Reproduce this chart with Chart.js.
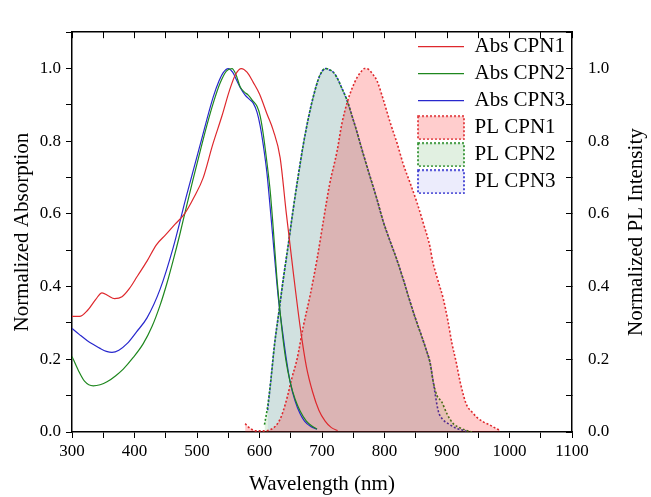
<!DOCTYPE html>
<html>
<head>
<meta charset="utf-8">
<script src="https://cdn.jsdelivr.net/npm/chart.js@4/dist/chart.umd.min.js"></script>
<style>
html,body{margin:0;padding:0;background:#fff;}
#wrap{width:651px;height:497px;position:relative;}
</style>
</head>
<body>
<div id="wrap"><canvas id="c" width="651" height="497"></canvas></div>
<script>
// ---------- data ----------
const absCpn1Wl = [300, 312, 325, 338, 348, 358, 368, 380, 392, 405, 420, 435, 450, 465, 480, 495, 510, 525, 540, 552, 562, 571, 580, 590, 600, 612, 622, 633, 643, 654, 665, 675, 685, 695, 705, 715, 725];
const absCpn1   = [0.318, 0.318, 0.335, 0.365, 0.383, 0.375, 0.367, 0.372, 0.395, 0.43, 0.47, 0.515, 0.543, 0.572, 0.60, 0.645, 0.70, 0.79, 0.87, 0.94, 0.985, 1.0, 0.99, 0.962, 0.93, 0.875, 0.83, 0.755, 0.60, 0.44, 0.29, 0.18, 0.11, 0.06, 0.03, 0.012, 0.004];

const absCpn2Wl = [300, 310, 320, 334, 345, 356, 370, 382, 398, 414, 428, 441, 452, 462, 472, 481, 493, 505, 516, 526, 537, 547, 556, 562, 569, 576, 582, 589, 596, 601, 606, 612, 617, 622, 628, 636, 642, 649, 657, 665, 675, 685, 692];
const absCpn2   = [0.208, 0.17, 0.14, 0.127, 0.13, 0.138, 0.155, 0.173, 0.205, 0.243, 0.29, 0.349, 0.41, 0.473, 0.54, 0.605, 0.69, 0.772, 0.845, 0.905, 0.96, 0.993, 1.0, 0.985, 0.95, 0.935, 0.927, 0.912, 0.896, 0.87, 0.82, 0.74, 0.665, 0.56, 0.42, 0.28, 0.20, 0.138, 0.09, 0.058, 0.03, 0.015, 0.008];

const absCpn3Wl = [300, 312, 324, 335, 345, 355, 364, 375, 388, 403, 420, 441, 462, 483, 505, 526, 535, 542, 550, 557, 564, 570, 577, 584, 590, 596, 601, 606, 612, 618, 625, 630, 636, 643, 649, 657, 665, 672, 682, 692];
const absCpn3   = [0.285, 0.268, 0.252, 0.24, 0.23, 0.222, 0.219, 0.225, 0.243, 0.275, 0.314, 0.393, 0.508, 0.649, 0.79, 0.922, 0.965, 0.989, 1.0, 0.99, 0.966, 0.945, 0.927, 0.915, 0.905, 0.88, 0.843, 0.79, 0.711, 0.60, 0.464, 0.37, 0.288, 0.20, 0.138, 0.085, 0.05, 0.03, 0.015, 0.008];

const plCpn1Wl = [577, 585, 595, 605, 615, 625, 632, 638, 645, 652, 660, 670, 681, 692, 702, 712, 724, 732, 740, 748, 756, 762, 768, 775, 781, 788, 798, 809, 820, 830, 841, 852, 862, 873, 877, 885, 894, 901, 908, 915, 921, 931, 940, 948, 958, 969, 978, 985];
const plCpn1   = [0.023, 0.01, 0.003, 0.003, 0.005, 0.015, 0.032, 0.058, 0.10, 0.15, 0.20, 0.29, 0.376, 0.475, 0.579, 0.68, 0.772, 0.85, 0.905, 0.945, 0.975, 0.99, 1.0, 0.997, 0.985, 0.966, 0.915, 0.852, 0.795, 0.737, 0.685, 0.631, 0.575, 0.508, 0.47, 0.42, 0.367, 0.31, 0.243, 0.19, 0.138, 0.076, 0.055, 0.04, 0.028, 0.019, 0.01, 0.004];

const plCpn2Wl = [608, 613, 618, 624, 631, 638, 646, 654, 662, 670, 678, 686, 694, 700, 706, 712, 718, 724, 732, 740, 748, 756, 766, 777, 788, 798, 809, 820, 830, 841, 850, 860, 867, 873, 878, 884, 891, 900, 910, 920, 930, 940];
const plCpn2   = [0.02, 0.07, 0.14, 0.24, 0.33, 0.42, 0.515, 0.614, 0.705, 0.79, 0.862, 0.922, 0.97, 0.992, 1.0, 0.997, 0.99, 0.975, 0.945, 0.913, 0.87, 0.825, 0.765, 0.702, 0.64, 0.579, 0.525, 0.473, 0.42, 0.358, 0.31, 0.261, 0.225, 0.19, 0.138, 0.10, 0.085, 0.05, 0.023, 0.012, 0.005, 0.0];

const plCpn3Wl = [613, 618, 624, 631, 638, 646, 654, 662, 670, 678, 686, 694, 700, 705, 711, 718, 724, 732, 740, 748, 756, 766, 777, 788, 798, 809, 820, 830, 841, 850, 860, 867, 873, 878, 886, 893, 902, 915, 931];
const plCpn3   = [0.06, 0.14, 0.24, 0.33, 0.42, 0.515, 0.614, 0.705, 0.79, 0.862, 0.922, 0.97, 0.992, 1.0, 0.997, 0.99, 0.975, 0.945, 0.913, 0.87, 0.825, 0.765, 0.702, 0.64, 0.579, 0.525, 0.473, 0.42, 0.358, 0.31, 0.261, 0.225, 0.19, 0.138, 0.058, 0.035, 0.023, 0.01, 0.003];

const seriesNames = ['Abs CPN1', 'Abs CPN2', 'Abs CPN3', 'PL CPN1', 'PL CPN2', 'PL CPN3'];
const xTickRange = [300, 1100];
const yTickRange = [0, 1.1];
const rightTitle = 'Normalized PL Intensity';

// ---------- helpers ----------
const pts = (xs, ys) => xs.map((x, i) => ({x: x, y: ys[i]}));
const SERIF = "'Liberation Serif', 'Times New Roman', serif";

const RED = 'rgb(222,40,45)', GREEN = 'rgb(30,135,30)', BLUE = 'rgb(40,40,205)';
const RED_F = 'rgba(255,0,0,0.20)', GREEN_F = 'rgba(0,128,0,0.12)', BLUE_F = 'rgba(0,0,255,0.07)';
const LEG_RED_F = 'rgb(255,205,205)', LEG_GREEN_F = 'rgb(225,240,225)', LEG_BLUE_F = 'rgb(236,236,252)';

function boxIcon(fill, stroke) {
  const cv = document.createElement('canvas');
  cv.width = 48; cv.height = 25;
  const g = cv.getContext('2d');
  g.fillStyle = fill; g.fillRect(1, 1, 46, 23);
  g.strokeStyle = stroke; g.lineWidth = 1.6; g.setLineDash([2, 2]);
  g.strokeRect(1, 1, 46, 23);
  return cv;
}
const legendIcons = [null, null, null,
  boxIcon(LEG_RED_F, RED), boxIcon(LEG_GREEN_F, GREEN), boxIcon(LEG_BLUE_F, BLUE)];

function absSet(label, xs, ys, col) {
  return {label, data: pts(xs, ys), xAxisID: 'x', yAxisID: 'y', borderColor: col, backgroundColor: col,
    borderWidth: 1.2, pointRadius: 0, fill: false, cubicInterpolationMode: 'monotone'};
}
function plSet(label, xs, ys, col, fcol) {
  return {label, data: pts(xs, ys), xAxisID: 'x', yAxisID: 'y2', borderColor: col, backgroundColor: fcol,
    borderWidth: 1.6, borderDash: [2, 2], pointRadius: 0, fill: 'origin', cubicInterpolationMode: 'monotone'};
}

const yLabel = (v) => { const k = Math.round(v * 10); return (k % 2 === 0 && k <= 10) ? (k / 10).toFixed(1) : ''; };

const legendPlacer = {
  id: 'legendPlacer',
  afterLayout(chart) {
    const lg = chart.legend;
    if (!lg) return;
    const ca = chart.chartArea;
    const left = chart.scales.x.getPixelForValue(1100) - 160;
    lg.left = left; lg.right = left + 160;
    lg.top = ca.top - 2; lg.bottom = ca.top - 2 + 220;
    lg.width = 160; lg.height = 220;
  }
};

// right axis title, reading bottom-to-top like the left one
const rightTitlePlugin = {
  id: 'rightTitle',
  afterDraw(chart) {
    const s = chart.scales.y2;
    const ctx = chart.ctx;
    ctx.save();
    ctx.translate(s.right - 15, (s.top + s.bottom) / 2);
    ctx.rotate(-Math.PI / 2);
    ctx.font = '21px ' + SERIF;
    ctx.fillStyle = '#000';
    ctx.textAlign = 'center';
    ctx.textBaseline = 'middle';
    ctx.fillText(rightTitle, 0, 0);
    ctx.restore();
  }
};

new Chart(document.getElementById('c'), {
  type: 'line',
  data: {
    datasets: [
      absSet(seriesNames[0], absCpn1Wl, absCpn1, RED),
      absSet(seriesNames[1], absCpn2Wl, absCpn2, GREEN),
      absSet(seriesNames[2], absCpn3Wl, absCpn3, BLUE),
      plSet(seriesNames[3], plCpn1Wl, plCpn1, RED, RED_F),
      plSet(seriesNames[4], plCpn2Wl, plCpn2, GREEN, GREEN_F),
      plSet(seriesNames[5], plCpn3Wl, plCpn3, BLUE, BLUE_F)
    ]
  },
  options: {
    responsive: false,
    animation: false,
    devicePixelRatio: 1,
    layout: {padding: 0},
    plugins: {
      tooltip: {enabled: false},
      legend: {
        display: true,
        position: 'chartArea',
        align: 'start',
        labels: {
          usePointStyle: true,
          pointStyleWidth: 46,
          padding: 6,
          color: '#000',
          font: {family: SERIF, size: 21},
          generateLabels(chart) {
            return chart.data.datasets.map((ds, i) => ({
              text: ds.label,
              fillStyle: i < 3 ? ds.borderColor : 'rgba(0,0,0,0)',
              strokeStyle: ds.borderColor,
              lineWidth: i < 3 ? 1.2 : 0,
              lineDash: [],
              pointStyle: i < 3 ? 'line' : legendIcons[i],
              fontColor: '#000',
              hidden: false,
              datasetIndex: i
            }));
          }
        }
      }
    },
    scales: {
      x: {
        type: 'linear', position: 'bottom', min: xTickRange[0], max: xTickRange[1],
        ticks: {stepSize: 50, autoSkip: false, maxRotation: 0, color: '#000', padding: 3,
          font: {family: SERIF, size: 17},
          callback: (v) => (v % 100 === 0 ? String(v) : '')},
        grid: {drawOnChartArea: false, drawTicks: true, tickLength: 6, color: '#000', lineWidth: 1},
        border: {display: true, color: '#000', width: 1.5},
        title: {display: true, text: 'Wavelength (nm)', color: '#000', font: {family: SERIF, size: 21}, padding: {top: 0, bottom: 0}},
        afterFit: (s) => { s.height = 65; }
      },
      x2: {
        type: 'linear', position: 'top', min: xTickRange[0], max: xTickRange[1],
        ticks: {display: false, stepSize: 50},
        grid: {drawOnChartArea: false, drawTicks: true, tickLength: -6, color: '#000', lineWidth: 1},
        border: {display: true, color: '#000', width: 1.5},
        afterFit: (s) => { s.height = 16; }
      },
      y: {
        type: 'linear', position: 'left', min: yTickRange[0], max: yTickRange[1],
        ticks: {stepSize: 0.1, autoSkip: false, color: '#000', padding: 5,
          font: {family: SERIF, size: 17}, callback: yLabel},
        grid: {drawOnChartArea: false, drawTicks: true, tickLength: 6, color: '#000', lineWidth: 1},
        border: {display: true, color: '#000', width: 1.5},
        title: {display: true, text: 'Normalized Absorption', color: '#000', font: {family: SERIF, size: 21}, padding: {top: 10, bottom: 10}},
        afterFit: (s) => { s.width = 72; }
      },
      y2: {
        type: 'linear', position: 'right', min: yTickRange[0], max: yTickRange[1],
        ticks: {stepSize: 0.1, autoSkip: false, color: '#000', padding: 22,
          font: {family: SERIF, size: 17}, callback: yLabel},
        grid: {drawOnChartArea: false, drawTicks: true, tickLength: -6, color: '#000', lineWidth: 1},
        border: {display: true, color: '#000', width: 1.5},
        title: {display: false},
        afterFit: (s) => { s.width = 79; }
      }
    }
  },
  plugins: [legendPlacer, rightTitlePlugin]
});
</script>
</body>
</html>
